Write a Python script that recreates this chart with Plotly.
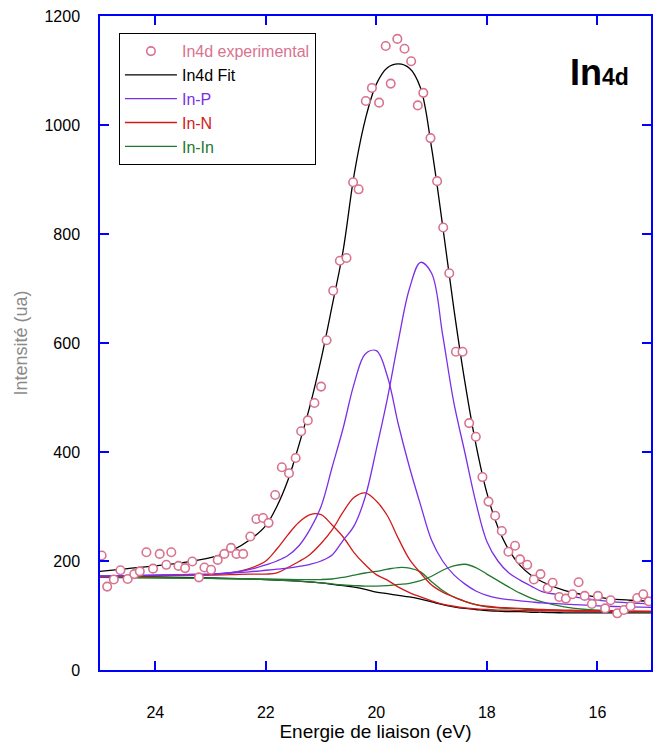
import plotly.graph_objects as go

# ---------------- data ----------------
exp_energy = [24.97, 24.87, 24.75, 24.63, 24.50, 24.38, 24.28, 24.16, 24.04, 23.92,
              23.80, 23.71, 23.58, 23.46, 23.33, 23.21, 23.11, 22.99, 22.87, 22.75,
              22.63, 22.53, 22.41, 22.28, 22.17, 22.05, 21.95, 21.83, 21.71, 21.58,
              21.46, 21.36, 21.24, 21.12, 21.00, 20.90, 20.78, 20.66, 20.54, 20.42,
              20.32, 20.19, 20.08, 19.95, 19.83, 19.74, 19.62, 19.49, 19.37, 19.25,
              19.15, 19.02, 18.90, 18.79, 18.68, 18.56, 18.44, 18.32, 18.20, 18.08,
              17.97, 17.85, 17.73, 17.61, 17.49, 17.40, 17.27, 17.15, 17.03, 16.90,
              16.81, 16.69, 16.57, 16.45, 16.34, 16.23, 16.10, 15.99, 15.86, 15.76,
              15.64, 15.52, 15.40, 15.28, 15.17, 15.07]
exp_intensity = [210, 153, 166, 183, 167, 176, 181, 216, 186, 213,
                 193, 216, 191, 187, 199, 170, 188, 184, 202, 213,
                 224, 213, 213, 245, 277, 279, 270, 321, 372, 361,
                 389, 438, 458, 490, 520, 605, 696, 751, 756, 895,
                 882, 1044, 1068, 1041, 1145, 1076, 1158, 1140, 1117, 1036,
                 1059, 976, 897, 812, 728, 584, 584, 453, 428, 354,
                 309, 283, 255, 217, 228, 203, 193, 166, 176, 150,
                 160, 134, 131, 139, 161, 136, 121, 136, 113, 128,
                 104, 110, 117, 132, 139, 126]

energy = [25.0, 24.5, 24.0, 23.5, 23.0, 22.6, 22.3, 22.0, 21.8, 21.6,
          21.4, 21.2, 21.0, 20.8, 20.6, 20.4, 20.2, 20.0, 19.8, 19.6,
          19.4, 19.2, 19.0, 18.8, 18.6, 18.4, 18.2, 18.0, 17.8, 17.6,
          17.4, 17.2, 17.0, 16.6, 16.2, 15.8, 15.4, 15.03]
fit = [181, 186, 191, 197, 206, 220, 238, 265, 300, 348,
       413, 485, 570, 668, 770, 910, 1010, 1075, 1105, 1112,
       1104, 1068, 958, 815, 665, 530, 415, 325, 262, 220,
       192, 174, 162, 146, 137, 131, 128, 126]
in_p_1 = [172, 173, 174, 175, 176, 179, 184, 193, 200, 210,
          228, 258, 300, 372, 444, 526, 580, 586, 539, 450,
          372, 303, 238, 200, 175, 158, 145, 137, 132, 129,
          127, 125, 123, 121, 119, 117, 116, 115]
in_p_2 = [172, 173, 174, 175, 176, 178, 180, 183, 185, 187,
          190, 194, 200, 211, 238, 265, 318, 405, 498, 605,
          700, 748, 728, 615, 492, 400, 308, 236, 200, 178,
          165, 154, 144, 137, 131, 126, 123, 121]
in_n_1 = [171, 172, 173, 174, 175, 179, 186, 200, 222, 248,
          271, 285, 285, 266, 244, 215, 193, 175, 165, 152,
          142, 134, 127, 121, 117, 114, 112, 111, 110, 110,
          109, 109, 109, 108, 108, 108, 107, 107]
in_n_2 = [171, 172, 173, 174, 174, 175, 176, 176, 178, 188,
          199, 212, 232, 257, 290, 317, 325, 310, 283, 241,
          203, 178, 156, 143, 134, 126, 120, 117, 115, 114,
          113, 112, 111, 110, 109, 109, 108, 108]

energy_low = [25.0, 24.0, 23.0, 22.0, 21.4, 21.0, 20.8, 20.6, 20.4, 20.2,
              20.0, 19.8, 19.6, 19.4, 19.2, 19.0, 18.8, 18.6, 18.4, 18.2,
              18.0, 17.8, 17.6, 17.4, 17.2, 17.0, 16.6, 16.2, 15.8, 15.03]
in_in_1 = [170, 169, 168, 167, 166, 166, 167, 170, 174, 178,
           181, 185, 188, 187, 180, 162, 146, 134, 126, 120,
           116, 114, 113, 112, 111, 110, 109, 108, 108, 107]
in_in_2 = [170, 169, 168, 166, 163, 160, 158, 156, 155, 154,
           154, 155, 157, 159, 164, 172, 183, 191, 194, 188,
           176, 164, 152, 141, 132, 125, 116, 111, 109, 107]
background = [172, 171, 169, 166, 163, 160, 157, 155, 152, 148,
              143, 140, 137, 134, 130, 125, 120, 116, 113, 111,
              109, 108, 107, 107, 106, 106, 105, 105, 105, 105]

x_ticks = [24, 22, 20, 18, 16]
y_ticks = [0, 200, 400, 600, 800, 1000, 1200]

# ---------------- styles ----------------
C_EXP = "#d8738f"
C_FIT = "#000000"
C_P = "#7a2fe6"
C_N = "#d11a1a"
C_IN = "#23782f"
AXIS_BLUE = "#0000ff"
FONT = "Liberation Sans, Arial, sans-serif"


def lbl(text, color):
    return f"<span style='color:{color}'>{text}</span>"


fig = go.Figure()
lw = 1.3
fig.add_trace(go.Scatter(x=energy_low, y=background, mode="lines", line=dict(color=C_FIT, width=lw, shape="spline"),
                         showlegend=False, hoverinfo="skip"))
fig.add_trace(go.Scatter(x=energy_low, y=in_in_1, mode="lines", line=dict(color=C_IN, width=lw, shape="spline"),
                         name=lbl("In-In", C_IN), legendrank=5))
fig.add_trace(go.Scatter(x=energy_low, y=in_in_2, mode="lines", line=dict(color=C_IN, width=lw, shape="spline"),
                         showlegend=False))
fig.add_trace(go.Scatter(x=energy, y=in_n_1, mode="lines", line=dict(color=C_N, width=lw, shape="spline"),
                         name=lbl("In-N", C_N), legendrank=4))
fig.add_trace(go.Scatter(x=energy, y=in_n_2, mode="lines", line=dict(color=C_N, width=lw, shape="spline"),
                         showlegend=False))
fig.add_trace(go.Scatter(x=energy, y=in_p_1, mode="lines", line=dict(color=C_P, width=lw, shape="spline"),
                         name=lbl("In-P", C_P), legendrank=3))
fig.add_trace(go.Scatter(x=energy, y=in_p_2, mode="lines", line=dict(color=C_P, width=lw, shape="spline"),
                         showlegend=False))
fig.add_trace(go.Scatter(x=energy, y=fit, mode="lines", line=dict(color=C_FIT, width=lw, shape="spline"),
                         name=lbl("In4d Fit", C_FIT), legendrank=2))
fig.add_trace(go.Scatter(x=exp_energy, y=exp_intensity, mode="markers",
                         marker=dict(symbol="circle", size=8.5, color="white", line=dict(color=C_EXP, width=1.6)),
                         name=lbl("In4d experimental", C_EXP), legendrank=1))

fig.add_annotation(xref="paper", yref="paper", x=0.964, y=0.913, xanchor="right", yanchor="middle",
                   text="<b>In<span style='font-size:23px'>4d</span></b>", showarrow=False,
                   font=dict(family=FONT, size=36, color="black"))

axis_common = dict(showline=True, linecolor=AXIS_BLUE, linewidth=1.5, mirror="ticks",
                   ticks="inside", tickcolor=AXIS_BLUE, tickwidth=1.5, ticklen=9,
                   showgrid=False, zeroline=False,
                   tickfont=dict(family=FONT, size=16, color="black"))

fig.update_xaxes(range=[25, 15.03], tickvals=x_ticks, ticklabelstandoff=27,
                 title=dict(text="Energie de liaison (eV)", font=dict(family=FONT, size=19, color="black"), standoff=3),
                 **axis_common)
fig.update_yaxes(range=[0, 1200], tickvals=y_ticks, ticklabelstandoff=15,
                 title=dict(text="Intensité (ua)", font=dict(family=FONT, size=18, color="#8a8a8a"), standoff=12),
                 **axis_common)

fig.update_layout(
    width=654, height=744,
    margin=dict(l=100, r=1, t=16, b=74),
    paper_bgcolor="white", plot_bgcolor="white",
    font=dict(family=FONT, size=16, color="black"),
    legend=dict(x=0.034, y=0.974, xanchor="left", yanchor="top",
                bgcolor="white", bordercolor="black", borderwidth=1.2,
                font=dict(family=FONT, size=16), itemwidth=52, tracegroupgap=0),
    showlegend=True,
)

fig.write_html("out.html")
